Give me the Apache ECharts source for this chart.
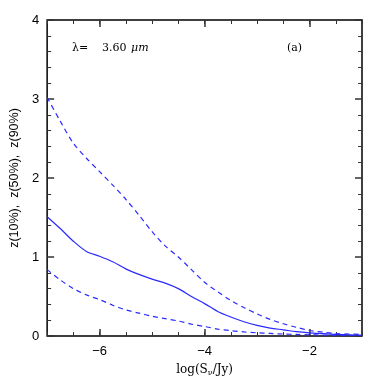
<!DOCTYPE html>
<html>
<head>
<meta charset="utf-8">
<script src="https://cdn.jsdelivr.net/npm/echarts@6/dist/echarts.min.js"></script>
<style>
  html, body { margin: 0; padding: 0; background: #fff; }
  #chart { width: 382px; height: 382px; }
</style>
</head>
<body>
<div id="chart"></div>
<script>
// log(S_nu/Jy)
const logS = [-7, -6.75, -6.5, -6.25, -6, -5.75, -5.5, -5.25, -5, -4.75, -4.5, -4.25,
  -4, -3.75, -3.5, -3.25, -3, -2.75, -2.5, -2.25, -2, -1.75, -1.5, -1.25, -1];
// z(90%) upper dashed
const z90 = [3.02, 2.72, 2.44, 2.25, 2.08, 1.91, 1.73, 1.53, 1.32, 1.14, 1.00, 0.84,
  0.68, 0.56, 0.45, 0.36, 0.28, 0.21, 0.155, 0.11, 0.07, 0.05, 0.03, 0.025, 0.02];
// z(50%) solid
const z50 = [1.51, 1.36, 1.20, 1.07, 1.01, 0.94, 0.85, 0.78, 0.72, 0.67, 0.60, 0.50,
  0.41, 0.31, 0.24, 0.18, 0.135, 0.10, 0.078, 0.055, 0.04, 0.03, 0.02, 0.015, 0.01];
// z(10%) lower dashed
const z10 = [0.84, 0.71, 0.60, 0.52, 0.46, 0.39, 0.33, 0.29, 0.25, 0.22, 0.19, 0.15,
  0.12, 0.088, 0.068, 0.052, 0.04, 0.032, 0.025, 0.02, 0.015, 0.012, 0.009, 0.007, 0.005];
const xMajor = [-6, -4, -2];

const blue = '#2a2aff';
const tickColor = '#333';
const sans = 'Liberation Sans';
const serif = 'DejaVu Serif';

const pair = (ys) => logS.map((x, i) => [x, ys[i]]);

const chart = echarts.init(document.getElementById('chart'));

const baseX = {
  type: 'value', min: -7, max: -1, splitLine: { show: false },
  axisLine: { show: false }
};

const option = {
  animation: false,
  grid: { left: 41, right: 20, top: 20, bottom: 42, show: true, borderColor: '#000', borderWidth: 1.5 },
  xAxis: [
    Object.assign({}, baseX, {
      position: 'bottom',
      name: '{a|log(S}{s|ν}{a|/Jy)}',
      nameLocation: 'middle', nameGap: 27,
      nameTextStyle: { rich: {
        a: { fontFamily: serif, fontSize: 12, color: '#000' },
        s: { fontFamily: serif, fontSize: 8, color: '#000', verticalAlign: 'bottom', padding: [6, 0, 0, 0] }
      } },
      axisTick: { inside: true, length: 7, lineStyle: { color: tickColor, width: 1.5 }, customValues: xMajor },
      axisLabel: { customValues: xMajor, fontFamily: sans, fontSize: 13, color: '#000', margin: 9,
        formatter: v => (v < 0 ? '\u2212' + Math.abs(v) : String(v)) }
    }),
    Object.assign({}, baseX, {
      position: 'bottom', interval: 0.5,
      axisTick: { inside: true, length: 4, lineStyle: { color: tickColor, width: 1 } },
      axisLabel: { show: false }
    }),
    Object.assign({}, baseX, {
      position: 'top',
      axisTick: { inside: true, length: 7, lineStyle: { color: tickColor, width: 1.5 }, customValues: xMajor },
      axisLabel: { show: false }
    }),
    Object.assign({}, baseX, {
      position: 'top', interval: 0.5,
      axisTick: { inside: true, length: 4, lineStyle: { color: tickColor, width: 1 } },
      axisLabel: { show: false }
    })
  ],
  yAxis: [
    {
      type: 'value', min: 0, max: 4, interval: 1, position: 'left',
      name: 'z(10%),  z(50%),  z(90%)', nameLocation: 'middle', nameGap: 25,
      nameTextStyle: { fontFamily: sans, fontSize: 12.5, color: '#000' },
      axisLine: { show: false }, splitLine: { show: false },
      axisTick: { inside: true, length: 7, lineStyle: { color: tickColor, width: 1.5 } },
      minorTick: { show: true, splitNumber: 5, length: 4, lineStyle: { color: tickColor, width: 1 } },
      axisLabel: { fontFamily: sans, fontSize: 13, color: '#000', margin: 8 }
    },
    {
      type: 'value', min: 0, max: 4, interval: 1, position: 'right',
      axisLine: { show: false }, splitLine: { show: false },
      axisTick: { inside: true, length: 7, lineStyle: { color: tickColor, width: 1.5 } },
      minorTick: { show: true, splitNumber: 5, length: 4, lineStyle: { color: tickColor, width: 1 } },
      axisLabel: { show: false }
    }
  ],
  graphic: [
    { type: 'text', left: 72, top: 43, style: { text: 'λ=', font: '11px "DejaVu Serif"', fill: '#000' } },
    { type: 'text', left: 102, top: 43, style: { text: '3.60', font: '11px "DejaVu Serif"', fill: '#000' } },
    { type: 'text', left: 131, top: 43, style: { text: 'μm', font: 'italic 11px "DejaVu Serif"', fill: '#000' } },
    { type: 'text', left: 287, top: 43, style: { text: '(a)', font: '11px "DejaVu Serif"', fill: '#000' } }
  ],
  series: [
    { name: 'z(90%)', type: 'line', data: pair(z90), smooth: 0.3, showSymbol: false,
      lineStyle: { color: blue, width: 1.2, type: [5, 4] } },
    { name: 'z(50%)', type: 'line', data: pair(z50), smooth: 0.3, showSymbol: false,
      lineStyle: { color: blue, width: 1.2 } },
    { name: 'z(10%)', type: 'line', data: pair(z10), smooth: 0.3, showSymbol: false,
      lineStyle: { color: blue, width: 1.2, type: [5, 4] } }
  ]
};

chart.setOption(option);
</script>
</body>
</html>
